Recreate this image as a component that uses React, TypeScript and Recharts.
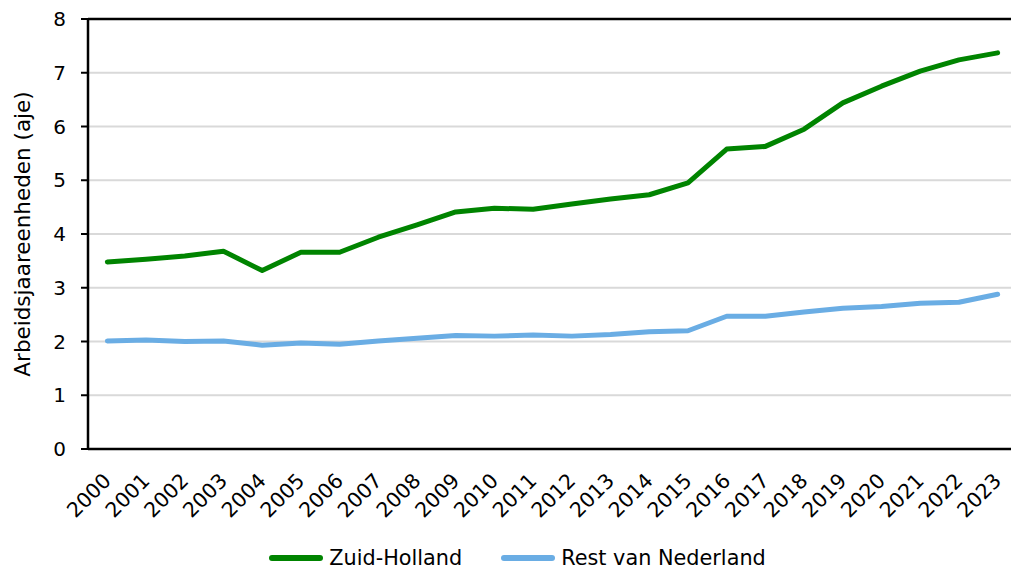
import React from "react";
import { LineChart, Line, XAxis, YAxis, CartesianGrid, Legend, ReferenceLine } from "recharts";

const years = ["2000","2001","2002","2003","2004","2005","2006","2007","2008","2009","2010","2011","2012","2013","2014","2015","2016","2017","2018","2019","2020","2021","2022","2023"];
const zuidHolland = [3.48,3.53,3.59,3.68,3.32,3.66,3.66,3.94,4.17,4.41,4.48,4.46,4.56,4.65,4.73,4.95,5.58,5.63,5.95,6.44,6.75,7.03,7.24,7.37];
const restNL = [2.01,2.03,2.0,2.01,1.93,1.97,1.95,2.01,2.06,2.11,2.1,2.12,2.1,2.13,2.18,2.2,2.47,2.47,2.55,2.62,2.65,2.71,2.73,2.88];
const yTicks = [0,1,2,3,4,5,6,7,8];

const FONT = "'DejaVu Sans', Verdana, sans-serif";
const GREEN = "#008400";
const BLUE = "#6aade4";

const data = years.map((y, i) => ({ year: y, zh: zuidHolland[i], rest: restNL[i] }));

const XTick = (props: any) => {
  const { x, y, payload } = props;
  return (
    <text x={x} y={y} transform={`rotate(-45, ${x}, ${y})`} textAnchor="end" dominantBaseline="central"
      fontSize={20.5} fontFamily={FONT} fill="#000">{payload.value}</text>
  );
};

const YLabel = (props: any) => {
  const vb = props.viewBox;
  const cx = vb.x + 22;
  const cy = vb.y + vb.height / 2;
  return (
    <text x={cx} y={cy} transform={`rotate(-90, ${cx}, ${cy})`} textAnchor="middle" dominantBaseline="central"
      fontSize={21.5} fontFamily={FONT} fill="#000">Arbeidsjaareenheden (aje)</text>
  );
};

const legendItems = [
  { name: "Zuid-Holland", color: GREEN },
  { name: "Rest van Nederland", color: BLUE },
];

const LegendBox = () => (
  <div style={{ display: "flex", justifyContent: "center", height: 22, paddingLeft: 24, fontFamily: FONT, fontSize: 20.8, lineHeight: "22px", color: "#000" }}>
    {legendItems.map((it, i) => (
      <div key={it.name} style={{ display: "flex", alignItems: "center", marginLeft: i ? 39 : 0 }}>
        <span style={{ display: "inline-block", width: 54, height: 6, borderRadius: 3, background: it.color, marginRight: 6 }} />
        <span>{it.name}</span>
      </div>
    ))}
  </div>
);

export default function App() {
  return (
    <div style={{ position: "absolute", left: 0, top: 0, width: 1011, height: 569, overflow: "hidden", background: "#fff" }}>
      <LineChart width={1020} height={569} data={data} margin={{ top: 19, right: 3, left: 0, bottom: 0 }}>
        <CartesianGrid horizontal vertical={false} stroke="#d9d9d9" strokeWidth={2} />
        <XAxis dataKey="year" scale="band" tick={<XTick />} tickLine={false} tickSize={0} tickMargin={28} interval={0}
          height={98} axisLine={{ stroke: "#000", strokeWidth: 2.5 }} />
        <YAxis domain={[0, 8]} ticks={yTicks} width={88} tickSize={7} tickMargin={15} interval={0}
          axisLine={{ stroke: "#000", strokeWidth: 2.5 }} tickLine={{ stroke: "#000", strokeWidth: 2 }}
          tick={{ fontSize: 20, fontFamily: FONT, fill: "#000" }} label={<YLabel />} />
        <ReferenceLine y={8} stroke="#000" strokeWidth={2.5} />
        <Legend verticalAlign="bottom" content={<LegendBox />} wrapperStyle={{ left: 0, width: 1011, bottom: 0 }} />
        <Line type="linear" dataKey="zh" name="Zuid-Holland" stroke={GREEN} strokeWidth={5} dot={false}
          strokeLinecap="round" strokeLinejoin="round" isAnimationActive={false} />
        <Line type="linear" dataKey="rest" name="Rest van Nederland" stroke={BLUE} strokeWidth={5} dot={false}
          strokeLinecap="round" strokeLinejoin="round" isAnimationActive={false} />
      </LineChart>
    </div>
  );
}
